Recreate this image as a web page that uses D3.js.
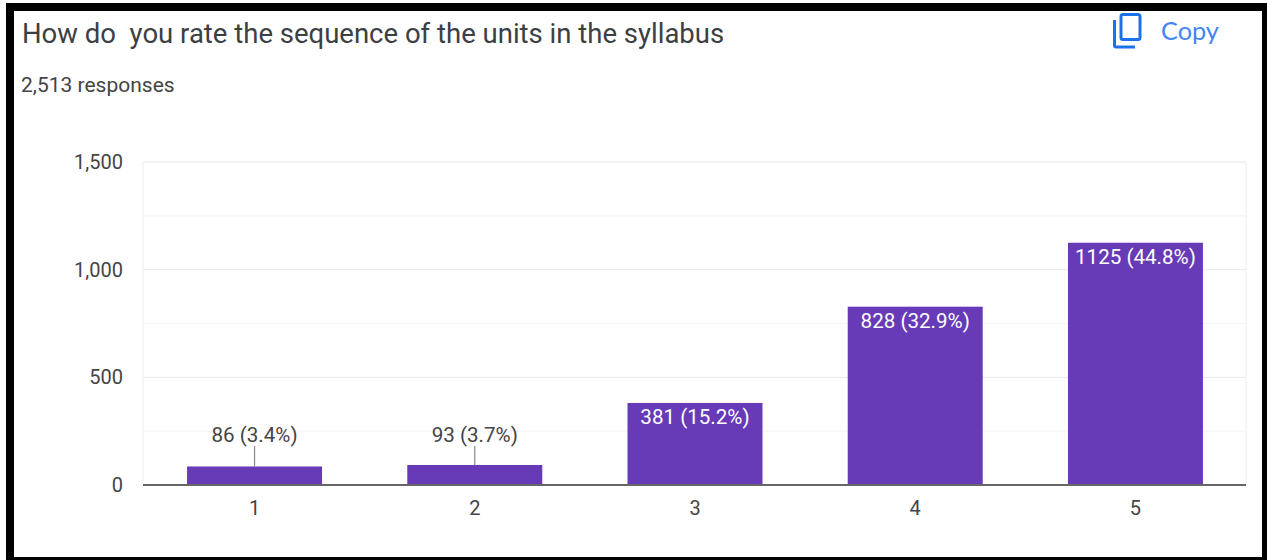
<!DOCTYPE html>
<html><head><meta charset="utf-8">
<style>html,body{margin:0;padding:0;background:#fff;overflow:hidden}svg{display:block}text{font-family:Roboto,sans-serif;white-space:pre}</style>
<script src="https://cdn.jsdelivr.net/npm/d3@7/dist/d3.min.js"></script>
</head><body><div id="chart"></div>
<script>
const categories=["1","2","3","4","5"];
const values=[86,93,381,828,1125];
const barLabels=["86 (3.4%)","93 (3.7%)","381 (15.2%)","828 (32.9%)","1125 (44.8%)"];
const majorTicks=[0,500,1000,1500];
const minorTicks=[250,750,1250];
const titleText="How do  you rate the sequence of the units in the syllabus";
const subtitleText="2,513 responses";
const copyText="Copy";

const svg=d3.select("#chart").append("svg").attr("width",1267).attr("height",560);
// black frame
svg.append("rect").attr("x",6).attr("y",3).attr("width",1261).attr("height",557).attr("fill","#000");
svg.append("rect").attr("x",14).attr("y",11).attr("width",1248).attr("height",546).attr("fill","#fff");

const x=d3.scaleBand().domain(categories).range([143,1247]).paddingInner(0.387).paddingOuter(0.2);
const y=d3.scaleLinear().domain([0,1500]).range([485,162]);
const L=143,R=1246;

svg.append("text").attr("x",22).attr("y",43).attr("font-size",27.5).attr("fill","#3c4043").text(titleText);
svg.append("text").attr("x",21).attr("y",92).attr("font-size",21).attr("fill","#444").text(subtitleText);
svg.append("text").attr("x",1161).attr("y",40).attr("font-size",25.3).attr("fill","#4285f4").style("font-family","Lato,Roboto,sans-serif").text(copyText);

// copy icon
const icon=svg.append("g").attr("fill","none").attr("stroke","#1a73e8").attr("stroke-width",3);
icon.append("rect").attr("x",1121).attr("y",14.5).attr("width",19).attr("height",25).attr("rx",2);
icon.append("path").attr("d","M1114.5 20v25.5a1.5 1.5 0 0 0 1.5 1.5h19");

// grid
svg.append("g").selectAll("line").data(minorTicks).join("line")
 .attr("x1",L).attr("x2",R).attr("y1",d=>y(d)).attr("y2",d=>y(d)).attr("stroke","#f6f6f6").attr("stroke-width",1.2);
svg.append("g").selectAll("line").data(majorTicks.filter(d=>d>0)).join("line")
 .attr("x1",L).attr("x2",R).attr("y1",d=>y(d)).attr("y2",d=>y(d)).attr("stroke","#ececec").attr("stroke-width",1.4);
svg.append("g").selectAll("line").data([L,R]).join("line")
 .attr("x1",d=>d).attr("x2",d=>d).attr("y1",y(1500)).attr("y2",y(0)).attr("stroke","#f3f3f3").attr("stroke-width",1.4);

// y axis
const yAxis=d3.axisLeft(y).tickValues(majorTicks).tickFormat(d3.format(",")).tickSize(0).tickPadding(20);
const gy=svg.append("g").attr("transform",`translate(${L},0)`).call(yAxis);
gy.select(".domain").remove();
gy.selectAll("text").attr("font-size",20).attr("fill","#444").style("font-family","Roboto,sans-serif");

// bars
svg.append("g").selectAll("rect").data(values).join("rect")
 .attr("x",(d,i)=>x(categories[i])).attr("width",x.bandwidth())
 .attr("y",d=>y(d)).attr("height",d=>y(0)-y(d)).attr("fill","#673ab7");

// x axis
const xAxis=d3.axisBottom(x).tickSize(0).tickPadding(16);
const gx=svg.append("g").attr("transform",`translate(0,${y(0)})`).call(xAxis);
gx.select(".domain").remove();
gx.selectAll("text").attr("font-size",20).attr("fill","#444").style("font-family","Roboto,sans-serif");
svg.append("line").attr("x1",L).attr("x2",R).attr("y1",y(0)).attr("y2",y(0)).attr("stroke","#666").attr("stroke-width",2);

// labels
const lab=svg.append("g");
values.forEach((v,i)=>{
  const cx=x(categories[i])+x.bandwidth()/2;
  const outside=v<200;
  if(outside){
    lab.append("line").attr("x1",cx).attr("x2",cx).attr("y1",446).attr("y2",y(v)).attr("stroke","#888").attr("stroke-width",1.2);
  }
  lab.append("text").attr("x",cx).attr("y",outside?442:y(v)+21).attr("text-anchor","middle")
    .attr("font-size",20.6).attr("fill",outside?"#444":"#fff").text(barLabels[i]);
});
</script></body></html>
